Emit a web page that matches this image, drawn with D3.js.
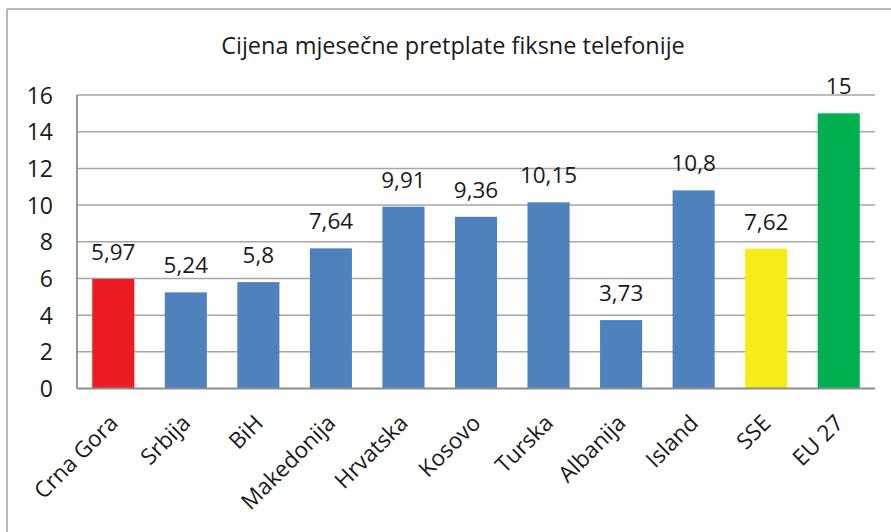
<!DOCTYPE html>
<html><head><meta charset="utf-8">
<script src="https://cdn.jsdelivr.net/npm/d3@7"></script>
<style>body{margin:0;background:#fff}svg{display:block}text{font-family:"Open Sans",sans-serif;fill:#1a1a1a}</style>
</head><body><svg id="c" width="891" height="532"></svg>
<script>
const title = "Cijena mjesečne pretplate fiksne telefonije";
const categories = ["Crna Gora","Srbija","BiH","Makedonija","Hrvatska","Kosovo","Turska","Albanija","Island","SSE","EU 27"];
const values = [5.97,5.24,5.8,7.64,9.91,9.36,10.15,3.73,10.8,7.62,15];
const valueLabels = ["5,97","5,24","5,8","7,64","9,91","9,36","10,15","3,73","10,8","7,62","15"];
const barColors = ["#ED1C24","#4F81BD","#4F81BD","#4F81BD","#4F81BD","#4F81BD","#4F81BD","#4F81BD","#4F81BD","#F7EC16","#00B050"];
const yTicks = [0,2,4,6,8,10,12,14,16];

const svg = d3.select("#c");
svg.append("line").attr("x1",7).attr("x2",891).attr("y1",9).attr("y2",9).attr("stroke","#a0a0a0").attr("stroke-width",1.5);
svg.append("line").attr("x1",7).attr("x2",7).attr("y1",9).attr("y2",532).attr("stroke","#a0a0a0").attr("stroke-width",1.5);

const L=77, R=875, T=95, B=388.5;
const x = d3.scaleBand().domain(categories).range([L,R]).paddingInner(0.42).paddingOuter(0.21);
const y = d3.scaleLinear().domain([0,16]).range([B,T]);

svg.append("text").attr("x",453).attr("y",54).attr("text-anchor","middle").style("font-size","23.5px").text(title);

svg.append("g").selectAll("line").data(yTicks.filter(d=>d>0)).join("line")
  .attr("x1",L).attr("x2",R).attr("y1",d=>y(d)).attr("y2",d=>y(d))
  .attr("stroke","#a6a6a6").attr("stroke-width",1.5);

svg.append("g").selectAll("rect").data(values).join("rect")
  .attr("x",(d,i)=>x(categories[i])).attr("width",x.bandwidth())
  .attr("y",d=>y(d)).attr("height",d=>B-y(d))
  .attr("fill",(d,i)=>barColors[i]);

svg.append("line").attr("x1",L).attr("x2",L).attr("y1",T).attr("y2",B).attr("stroke","#8c8c8c").attr("stroke-width",1.8);
svg.append("line").attr("x1",L).attr("x2",R).attr("y1",B).attr("y2",B).attr("stroke","#8c8c8c").attr("stroke-width",2);

const yAxis = d3.axisLeft(y).tickValues(yTicks).tickSize(0).tickPadding(0);
const gy = svg.append("g").attr("transform",`translate(${L-24},0)`).call(yAxis);
gy.select(".domain").remove();
gy.selectAll("text").style("font-size","23px").style("font-family","'Open Sans',sans-serif").attr("fill","#1a1a1a").attr("dy","0.35em");

svg.append("g").selectAll("text").data(values).join("text")
  .attr("x",(d,i)=>x(categories[i])+x.bandwidth()/2).attr("y",d=>y(d)-19)
  .attr("text-anchor","middle").style("font-size","22.5px").text((d,i)=>valueLabels[i]);

const xAxis = d3.axisBottom(x).tickSize(0).tickPadding(0);
const gx = svg.append("g").attr("transform",`translate(0,${B})`).call(xAxis);
gx.select(".domain").remove();
gx.selectAll("text").style("font-size","22.5px").style("font-family","'Open Sans',sans-serif").attr("fill","#1a1a1a")
  .attr("text-anchor","end").attr("dy",null).attr("y",0)
  .attr("transform","translate(6,36) rotate(-45)");
</script></body></html>
